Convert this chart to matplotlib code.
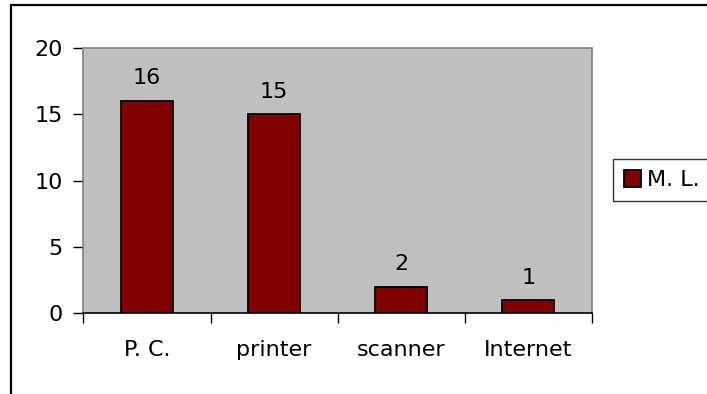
import matplotlib.pyplot as plt
from matplotlib.patches import Rectangle, Patch

categories = ["P. C.", "printer", "scanner", "Internet"]
values = [16, 15, 2, 1]
series_name = "M. L."

plt.rcParams['font.family'] = ['DejaVu Sans']

fig = plt.figure(figsize=(7.07, 3.94), dpi=100)
ax = fig.add_axes([0.1181, 0.2048, 0.7188, 0.6741])

# outer chart frame
fig.patches.append(Rectangle((11 / 707, -0.2), 1.2, 1.2 - 5 / 394,
                             transform=fig.transFigure, fill=False,
                             edgecolor='black', linewidth=1.6))

x = range(len(categories))
bars = ax.bar(x, values, width=0.41, color='#800000', edgecolor='black',
              linewidth=1.3, zorder=3)
for xi, v in zip(x, values):
    ax.annotate(str(v), (xi, v), xytext=(0, 9), textcoords='offset points',
                ha='center', va='bottom', fontsize=16)

ax.set_facecolor('#C0C0C0')
ax.set_xlim(-0.5, len(categories) - 0.5)
ax.set_ylim(0, 20)
ax.set_yticks([0, 5, 10, 15, 20])
ax.set_xticks([i + 0.5 for i in range(-1, len(categories))], minor=False)
ax.set_xticklabels([])
ax.set_xticks(list(x), minor=True)
ax.set_xticklabels(categories, minor=True, fontsize=16)
ax.tick_params(axis='x', which='minor', length=0, pad=19)
ax.tick_params(axis='x', which='major', length=7, width=1, color='black')
ax.tick_params(axis='y', length=7, width=1, labelsize=16, pad=8)

for side in ['top', 'right', 'left']:
    ax.spines[side].set_color('#808080')
    ax.spines[side].set_linewidth(1.2)
ax.spines['bottom'].set_color('black')
ax.spines['bottom'].set_linewidth(1.2)

handle = Patch(facecolor='#800000', edgecolor='black', linewidth=1.3)
leg = fig.legend([handle], [series_name], loc='upper left',
                 bbox_to_anchor=(613 / 707, 1 - 159 / 394), borderaxespad=0,
                 fontsize=16, fancybox=False, handlelength=0.75, handleheight=0.75,
                 handletextpad=0.3, borderpad=0.5)
leg.get_frame().set_edgecolor('black')
leg.get_frame().set_linewidth(1.0)

fig.savefig("out.png", dpi=100)
